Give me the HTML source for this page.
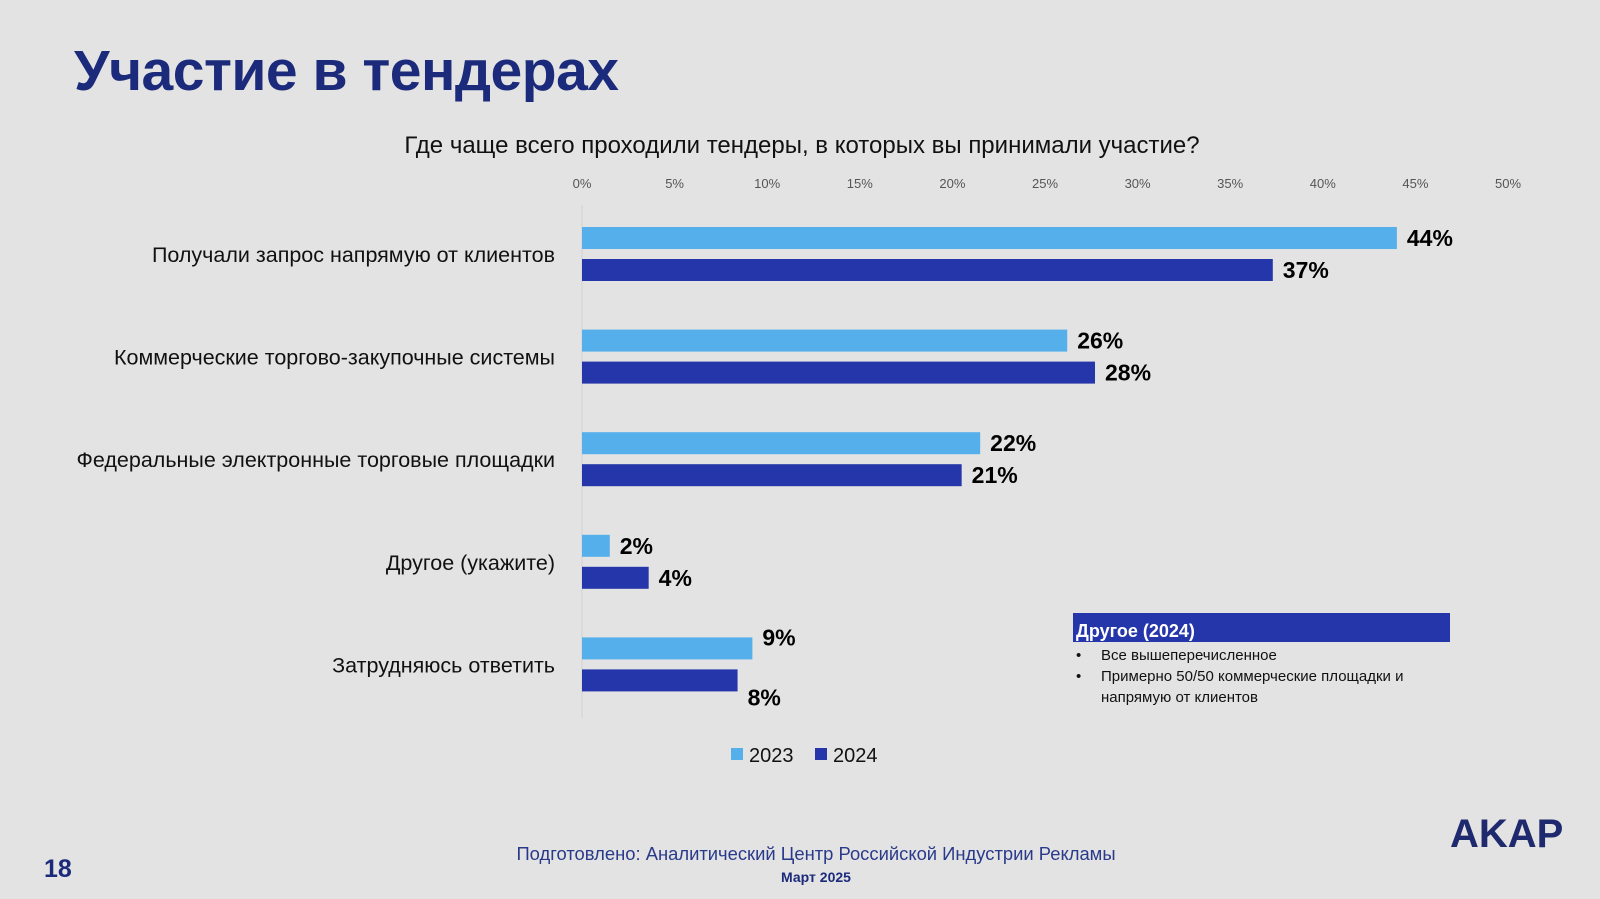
<!DOCTYPE html>
<html><head><meta charset="utf-8"><style>
body{margin:0;width:1600px;height:899px;background:#e3e3e3;font-family:"Liberation Sans","Noto Sans CJK SC",sans-serif;position:relative;overflow:hidden}
.a{position:absolute;white-space:nowrap}
.li{position:absolute;left:1076px;font-size:15px;color:#111;line-height:21px;padding-left:25px}
.li:before{content:"•";position:absolute;left:0}
</style></head><body>
<div class="a" style="left:74px;top:38px;font-size:57px;font-weight:bold;color:#1b2a7a;letter-spacing:-0.5px">Участие в тендерах</div>
<div class="a" style="left:0;width:1604px;text-align:center;top:132px;font-size:24px;color:#111">Где чаще всего проходили тендеры, в которых вы принимали участие?</div>
<svg class="a" style="left:0;top:0" width="1600" height="899" id="chart"></svg>
<div class="a" style="left:1073px;top:613px;width:377px;height:29px;background:#2535aa;color:#fff;font-weight:bold;font-size:18px;line-height:36px;padding-left:3px;box-sizing:border-box;overflow:hidden">Другое (2024)</div>
<div class="li" style="top:645px">Все вышеперечисленное</div>
<div class="li" style="top:666px">Примерно 50/50 коммерческие площадки и<br>напрямую от клиентов</div>
<div class="a" style="left:0;width:1632px;text-align:center;top:843px;font-size:18.4px;color:#2a3a8a">Подготовлено: Аналитический Центр Российской Индустрии Рекламы</div>
<div class="a" style="left:0;width:1632px;text-align:center;top:869px;font-size:14px;font-weight:bold;color:#1b2a7a">Март 2025</div>
<div class="a" style="left:44px;top:855px;font-size:25px;font-weight:bold;color:#1b2a7a">18</div>
<div class="a" style="left:1450px;top:812px;font-size:40px;font-weight:bold;color:#1f2a6e;letter-spacing:0px">AKAP</div>
<script>
const categories=["Получали запрос напрямую от клиентов","Коммерческие торгово-закупочные системы","Федеральные электронные торговые площадки","Другое (укажите)","Затрудняюсь ответить"];
const values2023=[44.0,26.2,21.5,1.5,9.2];
const values2024=[37.3,27.7,20.5,3.6,8.4];
const ticks=[0,5,10,15,20,25,30,35,40,45,50];
const seriesNames=["2023","2024"];
const svg=document.getElementById('chart');const NS="http://www.w3.org/2000/svg";
const x0=582,x50=1508;const X=v=>x0+(x50-x0)*v/50;
const gTop=227,pitch=102.6;
function el(t,a,txt){const e=document.createElementNS(NS,t);for(const k in a)e.setAttribute(k,a[k]);if(txt!==undefined)e.textContent=txt;svg.appendChild(e);return e;}
const ax=el('line',{x1:x0,x2:x0,y1:205,y2:718,stroke:'#d0d0d0','stroke-width':1});


ticks.forEach(t=>{const e=el('text',{x:X(t),y:188,'text-anchor':'middle','font-size':13,fill:'#555','font-family':'Liberation Sans'},t+'%');

});
const cols=['#55afea','#2535aa'];
categories.forEach((c,i)=>{const y=gTop+i*pitch;
const l=el('text',{x:555,y:y+35,'text-anchor':'end','font-size':21.5,fill:'#111','font-family':'Liberation Sans'},c);


[values2023[i],values2024[i]].forEach((v,s)=>{const by=y+s*32;
const r=el('rect',{x:x0,y:by,width:X(v)-x0,height:22,fill:cols[s]});


let dy=19;if(i===4)dy=s===0?8:36;
const t=el('text',{x:X(v)+10,y:by+dy,'font-size':23,'font-weight':'bold',fill:'#000','font-family':'Liberation Sans'},Math.round(v)+'%');

});});
seriesNames.forEach((n,s)=>{const lx=[731,815][s];
const r=el('rect',{x:lx,y:748,width:12,height:12,fill:cols[s]});


const t=el('text',{x:lx+18,y:762,'font-size':20,fill:'#111','font-family':'Liberation Sans'},n);

});
</script>
</body></html>
